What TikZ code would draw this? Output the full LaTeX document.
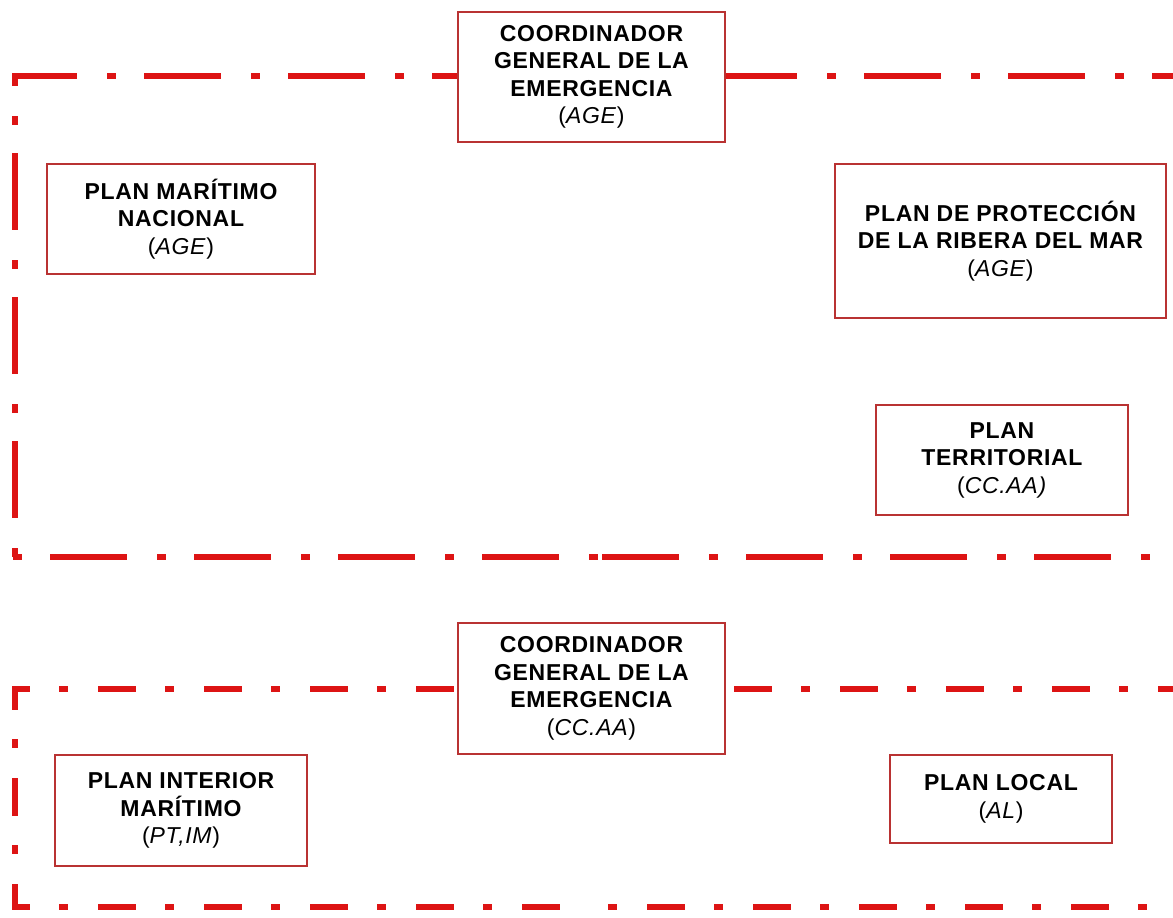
\documentclass[tikz,border=0pt]{standalone}
\usepackage{fontspec}
\setmainfont{Liberation Sans}
\newfontfamily\boxfont[LetterSpace=3]{Liberation Sans}
\definecolor{framered}{RGB}{221,20,20}
\definecolor{boxred}{RGB}{185,50,50}
\tikzset{
  frameA/.style={draw=framered, line width=2.75pt, line cap=butt,
     dash pattern=on 38.5pt off 15pt on 4.5pt off 14pt},
  frameB/.style={draw=framered, line width=2.75pt, line cap=butt,
     dash pattern=on 19pt off 14.5pt on 4.5pt off 15pt},
  planbox/.style={draw=boxred, line width=1pt, fill=white, align=center,
     inner sep=0pt, font=\boxfont\fontsize{11.5}{13.75}\selectfont\bfseries},
}
\newcommand{\subl}[1]{{\mdseries #1}}
\begin{document}
\begin{tikzpicture}[x=0.5pt,y=-0.5pt]
\useasboundingbox (0,0) rectangle (1173,917);
% frame coordinates
\coordinate (a1) at (12,76);   \coordinate (a2) at (1173,76);
\coordinate (a3) at (15,73);   \coordinate (a4) at (15,560);
\coordinate (a5) at (12,557);  \coordinate (a5m) at (600,557);
\coordinate (a5n) at (602,557); \coordinate (a6) at (1173,557);
\coordinate (b1) at (12,689);  \coordinate (b2) at (1173,689);
\coordinate (b3) at (15,686);  \coordinate (b4) at (15,910);
\coordinate (b5) at (12,907);  \coordinate (b5m) at (580,907);
\coordinate (b5n) at (600,907); \coordinate (b6) at (1173,907);
% upper frame
\draw[frameA, dash phase=6pt]  (a1) -- (a2);
\draw[frameA, dash phase=32pt] (a3) -- (a4);
\draw[frameA, dash phase=53pt] (a5) -- (a5m);
\draw[frameA, dash phase=0pt]  (a5n) -- (a6);
% lower frame
\draw[frameB, dash phase=10pt] (b1) -- (b2);
\draw[frameB, dash phase=7pt]  (b3) -- (b4);
\draw[frameB, dash phase=10pt] (b5) -- (b5m);
\draw[frameB, dash phase=29.5pt] (b5n) -- (b6);
% boxes
\node[planbox, minimum width=133.5pt, minimum height=65pt] (cg1) at (591.5,77)
  {COORDINADOR\\GENERAL DE LA\\EMERGENCIA\\\subl{(\textit{AGE})}};
\node[planbox, minimum width=134pt, minimum height=55pt] (pmn) at (181,219)
  {PLAN MARÍTIMO\\NACIONAL\\\subl{(\textit{AGE})}};
\node[planbox, minimum width=165.5pt, minimum height=77pt] (ppr) at (1000.5,241)
  {PLAN DE PROTECCIÓN\\DE LA RIBERA DEL MAR\\\subl{(\textit{AGE})}};
\node[planbox, minimum width=126pt, minimum height=55pt] (pt) at (1002,460)
  {PLAN\\TERRITORIAL\\\subl{(\textit{CC.AA)}}};
\node[planbox, minimum width=133.5pt, minimum height=65.5pt] (cg2) at (591.5,688.5)
  {COORDINADOR\\GENERAL DE LA\\EMERGENCIA\\\subl{(\textit{CC.AA})}};
\node[planbox, minimum width=126pt, minimum height=55.5pt] (pim) at (181,810.5)
  {PLAN INTERIOR\\MARÍTIMO\\\subl{(\textit{PT,IM})}};
\node[planbox, minimum width=111pt, minimum height=44pt] (pl) at (1001,799)
  {PLAN LOCAL\\\subl{(\textit{AL})}};
\end{tikzpicture}
\end{document}
